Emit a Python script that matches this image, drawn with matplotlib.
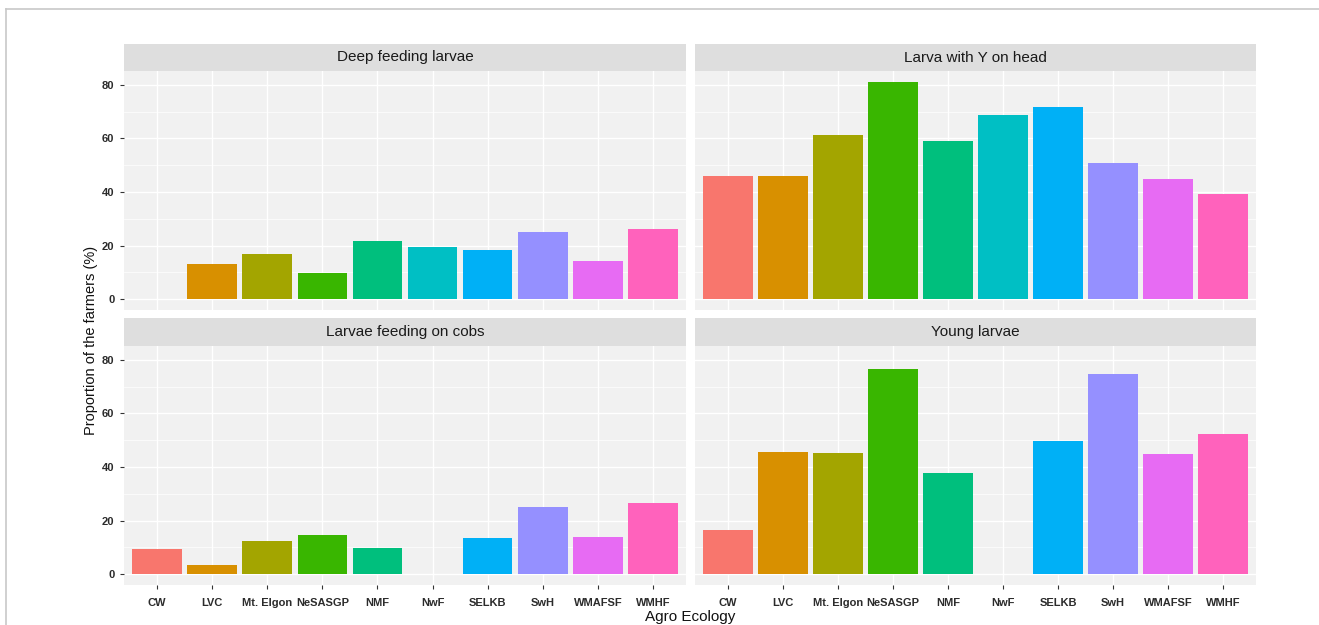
import matplotlib.pyplot as plt
from matplotlib.lines import Line2D

plt.rcParams['font.family'] = ['Liberation Sans', 'DejaVu Sans']

zones = ["CW", "LVC", "Mt. Elgon", "NeSASGP", "NMF", "NwF", "SELKB", "SwH", "WMAFSF", "WMHF"]
deep_feeding = [0, 13.3, 16.9, 9.6, 21.7, 19.3, 18.5, 24.9, 14.4, 26.2]
y_on_head = [45.9, 45.9, 61.2, 81.1, 59.0, 68.9, 71.7, 50.7, 44.7, 39.1]
feeding_cobs = [9.5, 3.4, 12.3, 14.7, 9.8, 0, 13.5, 25.2, 13.9, 26.4]
young = [16.4, 45.6, 45.2, 76.7, 37.9, 0, 49.6, 74.6, 44.8, 52.4]

titles = ["Deep feeding larvae", "Larva with Y on head", "Larvae feeding on cobs", "Young larvae"]
series = [deep_feeding, y_on_head, feeding_cobs, young]

# default ggplot hue palette for 10 levels
hues = ["#F8766D", "#D89000", "#A3A500", "#39B600", "#00BF7D",
        "#00BFC4", "#00B0F6", "#9590FF", "#E76BF3", "#FF62BC"]

W, H = 1319, 625
fig = plt.figure(figsize=(W / 100, H / 100), dpi=100)

# thin frame line on the left and top
fig.add_artist(Line2D([6 / W, 6 / W], [0, 1 - 9 / H], transform=fig.transFigure, color="#c8c8c8", lw=1.2))
fig.add_artist(Line2D([6 / W, 1], [1 - 9 / H, 1 - 9 / H], transform=fig.transFigure, color="#c8c8c8", lw=1.2))

ymax = max(max(s) for s in series)
ylim = (-0.05 * ymax, 1.05 * ymax)
x = list(range(1, len(zones) + 1))

cols = [(124, 686), (695, 1256)]
rows = [(44, 71, 310), (318, 346, 585)]

for i, (title, vals) in enumerate(zip(titles, series)):
    r, c = divmod(i, 2)
    x0, x1 = cols[c]
    s_top, p_top, p_bot = rows[r]
    ax = fig.add_axes([x0 / W, 1 - p_bot / H, (x1 - x0) / W, (p_bot - p_top) / H])
    ax.set_facecolor("#f1f1f1")
    ax.set_axisbelow(True)
    for yv in [10, 30, 50, 70]:
        ax.axhline(yv, color="white", lw=0.5, zorder=0)
    for yv in [0, 20, 40, 60, 80]:
        ax.axhline(yv, color="white", lw=1.0, zorder=0)
    for xv in x:
        ax.axvline(xv, color="white", lw=1.0, zorder=0)
    ax.bar(x, vals, width=0.9, color=hues, zorder=2)
    ax.set_xlim(0.4, len(zones) + 0.6)
    ax.set_ylim(*ylim)
    for sp in ax.spines.values():
        sp.set_visible(False)
    ax.set_yticks([0, 20, 40, 60, 80])
    ax.set_xticks(x)
    ax.tick_params(length=3, width=0.8, color="#333333", pad=4,
                   labelsize=8, labelcolor="#2b2b2b")
    ax.tick_params(axis="x", pad=6)
    if c == 0:
        ax.set_yticklabels([str(v) for v in [0, 20, 40, 60, 80]], fontweight="bold")
    else:
        ax.tick_params(axis="y", left=False, labelleft=False)
    if r == 1:
        ax.set_xticklabels(zones, fontweight="bold")
    else:
        ax.tick_params(axis="x", bottom=False, labelbottom=False)

    # facet strip
    sax = fig.add_axes([x0 / W, 1 - p_top / H, (x1 - x0) / W, (p_top - s_top) / H])
    sax.set_facecolor("#dedede")
    sax.set_xticks([])
    sax.set_yticks([])
    for sp in sax.spines.values():
        sp.set_visible(False)
    sax.text(0.5, 0.5, title, ha="center", va="center", fontsize=11, color="#1a1a1a",
             transform=sax.transAxes)

fig.text(91 / W, 1 - 340 / H, "Proportion of the farmers (%)", rotation=90,
         ha="center", va="center", fontsize=10.5, color="#111111")
fig.text(690 / W, 1 - 617 / H, "Agro Ecology", ha="center", va="center",
         fontsize=11, color="#111111")

fig.savefig("out.png", dpi=100)
